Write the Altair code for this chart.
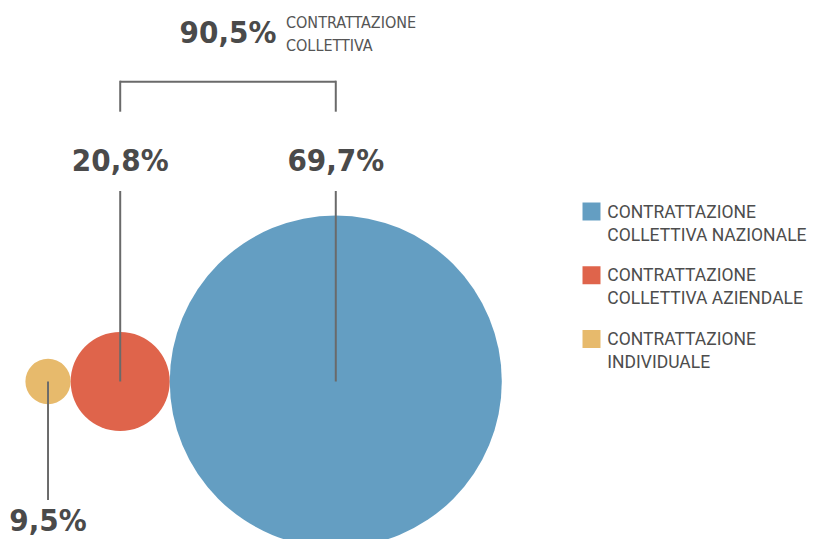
import altair as alt
import pandas as pd

# ---- data ----
categorie = [
    "CONTRATTAZIONE INDIVIDUALE",
    "CONTRATTAZIONE COLLETTIVA AZIENDALE",
    "CONTRATTAZIONE COLLETTIVA NAZIONALE",
]
valori = [9.5, 20.8, 69.7]
collettiva = [False, True, True]
ordine_legenda = [
    "CONTRATTAZIONE COLLETTIVA NAZIONALE",
    "CONTRATTAZIONE COLLETTIVA AZIENDALE",
    "CONTRATTAZIONE INDIVIDUALE",
]
colori = ["#649ec2", "#df644b", "#e7ba6c"]
titolo_gruppo = ["CONTRATTAZIONE", "COLLETTIVA"]

df = pd.DataFrame({
    "categoria": categorie,
    "valore": valori,
    "ordine": list(range(len(categorie))),
    "collettiva": collettiva,
})

# ---- layout / style ----
W, H = 801, 531
CY = 373.5
NUMFONT = "DejaVu Sans Condensed, sans-serif"
GRAY_TXT = "#4a4a4a"
GRAY_LINE = "#6a6a6a"

xscale = alt.Scale(domain=[0, 200], range=[17.4, 493.8])
X = alt.X("centro:Q", scale=xscale, axis=None)
colscale = alt.Scale(domain=ordine_legenda, range=colori)

base = alt.Chart(df).transform_calculate(
    diam="2 * datum.valore",
    etichetta="replace(format(datum.valore, '.1f'), '.', ',') + '%'",
).transform_window(
    cum="sum(diam)", sort=[alt.SortField("ordine")]
).transform_calculate(
    centro="datum.cum - datum.valore"
)

# symbol size = diameter^2 ; diameter proportional to value
cerchi = base.mark_circle(opacity=1, strokeWidth=0).encode(
    x=X,
    y=alt.value(CY),
    size=alt.Size(
        "valore:Q",
        scale=alt.Scale(type="pow", exponent=2, domain=[0, 100], range=[0, 226957]),
        legend=None,
    ),
    color=alt.Color("categoria:N", scale=colscale, legend=None),
    order=alt.Order("ordine:Q"),
)

rule_style = dict(color=GRAY_LINE, strokeWidth=2)

linee_su = base.transform_filter("datum.collettiva").mark_rule(**rule_style).encode(
    x=X, y=alt.value(CY), y2=alt.value(183)
)
linee_giu = base.transform_filter("!datum.collettiva").mark_rule(**rule_style).encode(
    x=X, y=alt.value(CY), y2=alt.value(492)
)

num_style = dict(font=NUMFONT, fontSize=31, fontWeight="bold", color=GRAY_TXT,
                 baseline="alphabetic", align="center")

etich_su = base.transform_filter("datum.collettiva").mark_text(**num_style).encode(
    x=X, y=alt.value(163), text="etichetta:N"
)
etich_giu = base.transform_filter("!datum.collettiva").mark_text(**num_style).encode(
    x=X, y=alt.value(523), text="etichetta:N"
)

gruppo = base.transform_filter("datum.collettiva").transform_aggregate(
    x1="min(centro)", x2="max(centro)", totale="sum(valore)"
).transform_calculate(
    xm="(datum.x1 + datum.x2) / 2",
    etichetta="replace(format(datum.totale, '.1f'), '.', ',') + '%'",
)

parentesi_h = gruppo.mark_rule(**rule_style).encode(
    x=alt.X("x1:Q", scale=xscale, axis=None), x2="x2:Q", y=alt.value(73.7)
)
parentesi_v = base.transform_filter("datum.collettiva").mark_rule(**rule_style).encode(
    x=X, y=alt.value(72.7), y2=alt.value(103.7)
)
totale = gruppo.mark_text(**num_style).encode(
    x=alt.X("xm:Q", scale=xscale, axis=None), y=alt.value(35), text="etichetta:N"
)
sottotitolo = gruppo.mark_text(
    font=NUMFONT, fontSize=16, color="#555555", align="left",
    baseline="alphabetic", dx=58, lineHeight=23,
).encode(
    x=alt.X("xm:Q", scale=xscale, axis=None), y=alt.value(19.7),
    text=alt.value(titolo_gruppo),
)

# ---- legend (manual, for two-line labels) ----
leg_base = alt.Chart(df).transform_calculate(
    righe="[substring(datum.categoria, 0, indexof(datum.categoria, ' ')), "
          "substring(datum.categoria, indexof(datum.categoria, ' ') + 1)]"
)
LY = alt.Y("categoria:N", scale=alt.Scale(type="point", domain=ordine_legenda,
                                          range=[203.5, 331], padding=0), axis=None)
leg_sym = leg_base.mark_square(size=324, opacity=1, strokeWidth=0).encode(
    x=alt.value(583.5), y=LY, color=alt.Color("categoria:N", scale=colscale, legend=None)
)
leg_txt = leg_base.mark_text(
    font="Roboto", fontSize=17.5, color="#4d4d4d", align="left",
    baseline="alphabetic", dy=6, lineHeight=23,
).encode(x=alt.value(599.3), y=LY, text="righe:N")

chart = alt.layer(
    cerchi, linee_su, linee_giu, etich_su, etich_giu,
    parentesi_h, parentesi_v, totale, sottotitolo, leg_sym, leg_txt,
).properties(
    width=W, height=H, padding=0, background="white",
    autosize=alt.AutoSizeParams(type="none"),
).configure_view(stroke=None)

chart.save("out.html", embed_options={"renderer": "svg", "actions": False})
